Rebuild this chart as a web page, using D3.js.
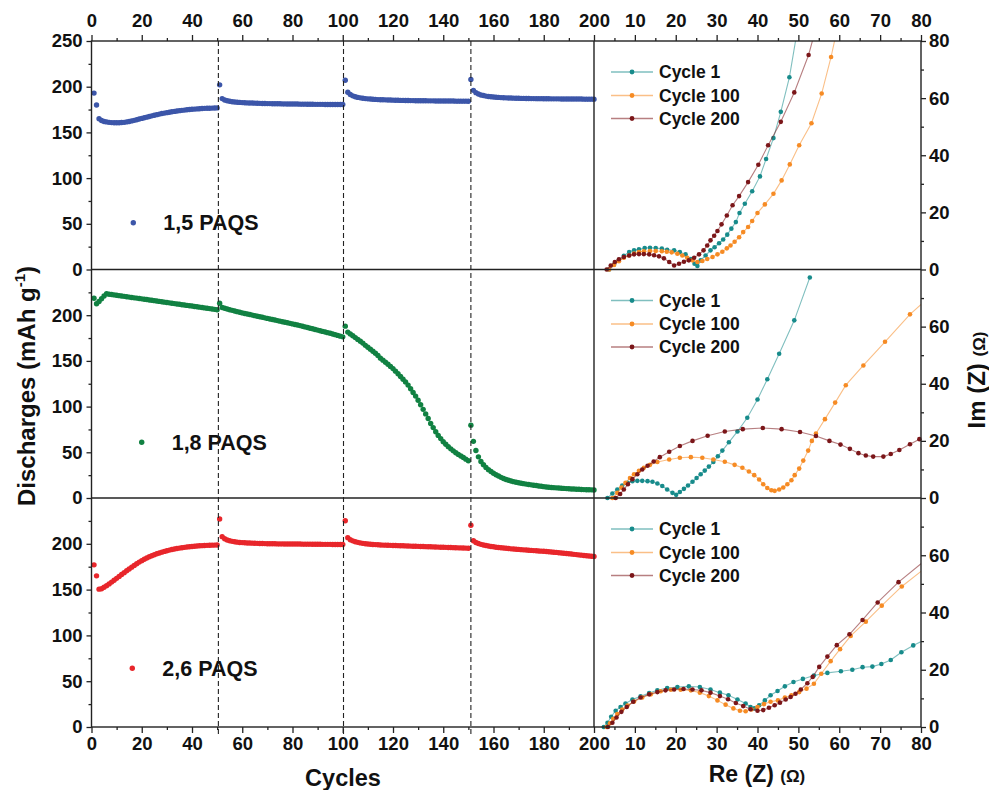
<!DOCTYPE html>
<html>
<head>
<meta charset="utf-8">
<script src="https://cdn.jsdelivr.net/npm/d3@7"></script>
<style>
body { margin: 0; background: #fff; }
svg text { font-family: "Liberation Sans", Arial, sans-serif; font-weight: bold; fill: #111; }
</style>
</head>
<body>
<svg width="989" height="790"></svg>
<script>
// discharge capacity per cycle (cycles 1..200)
var cycles = d3.range(1, 201);

var paqs15 = [193, 180, 165, 163, 162, 161.5, 161, 160.7, 160.5, 160.5,
    160.6, 160.8, 161, 161.5, 162, 162.6, 163.2, 163.9, 164.6, 165.3,
    166, 166.7, 167.4, 168.1, 168.8, 169.4, 170, 170.6, 171.1, 171.6,
    172.1, 172.6, 173, 173.4, 173.8, 174.1, 174.4, 174.7, 175, 175.3,
    175.5, 175.7, 175.9, 176.1, 176.3, 176.4, 176.5, 176.6, 176.7, 176.8,
    202, 187, 185.5, 184.6, 184, 183.6, 183.3, 183, 182.8, 182.6,
    182.4, 182.3, 182.2, 182.1, 182, 181.9, 181.8, 181.7, 181.6, 181.5,
    181.5, 181.4, 181.4, 181.3, 181.3, 181.2, 181.2, 181.1, 181.1, 181,
    181, 181, 180.9, 180.9, 180.9, 180.8, 180.8, 180.8, 180.7, 180.7,
    180.7, 180.7, 180.6, 180.6, 180.6, 180.6, 180.5, 180.5, 180.5, 180.5,
    207, 194, 191.5, 190, 189, 188.3, 187.8, 187.4, 187, 186.7,
    186.5, 186.3, 186.1, 185.9, 185.8, 185.7, 185.6, 185.5, 185.4, 185.3,
    185.2, 185.1, 185, 185, 184.9, 184.9, 184.8, 184.8, 184.7, 184.7,
    184.6, 184.6, 184.6, 184.5, 184.5, 184.5, 184.4, 184.4, 184.4, 184.4,
    184.3, 184.3, 184.3, 184.3, 184.2, 184.2, 184.2, 184.2, 184.2, 184.1,
    208, 196, 193.5, 192, 191, 190.3, 189.7, 189.3, 189, 188.7,
    188.5, 188.3, 188.1, 187.9, 187.8, 187.7, 187.6, 187.5, 187.4, 187.3,
    187.2, 187.2, 187.1, 187.1, 187, 187, 186.9, 186.9, 186.9, 186.8,
    186.8, 186.8, 186.7, 186.7, 186.7, 186.7, 186.6, 186.6, 186.6, 186.6,
    186.5, 186.5, 186.5, 186.5, 186.5, 186.4, 186.4, 186.4, 186.4, 186.4];

var paqs18 = [218.5, 212.5, 215, 218, 221, 223.5, 223, 222.6, 222.2, 221.8,
    221.4, 221, 220.6, 220.2, 219.8, 219.4, 219, 218.7, 218.3, 217.9,
    217.5, 217.1, 216.7, 216.3, 215.9, 215.5, 215.1, 214.7, 214.3, 213.9,
    213.5, 213.1, 212.7, 212.3, 211.9, 211.5, 211.1, 210.7, 210.3, 210,
    209.6, 209.2, 208.8, 208.4, 208, 207.6, 207.2, 206.8, 206.4, 206,
    213, 208.5, 207.6, 206.8, 206, 205.3, 204.6, 203.9, 203.2, 202.5,
    201.9, 201.3, 200.7, 200.1, 199.5, 198.9, 198.3, 197.7, 197.1, 196.5,
    195.9, 195.3, 194.7, 194.1, 193.5, 192.9, 192.3, 191.7, 191.1, 190.5,
    189.9, 189.3, 188.6, 187.9, 187.2, 186.5, 185.8, 185.1, 184.4, 183.7,
    183, 182.3, 181.6, 180.9, 180.2, 179.5, 178.7, 177.9, 177.1, 176.3,
    188, 181.5, 179.5, 177.5, 175.5, 173.5, 171.5, 169.5, 167, 165,
    162.8, 160.5, 158.3, 156, 153, 150.8, 148.5, 146.3, 144, 141.6,
    138.8, 136, 133, 130, 127, 123.5, 119.5, 115.5, 111.5, 107,
    102, 97, 92, 87, 81.5, 77, 72.5, 68.5, 65, 61.5,
    58.8, 56.2, 53.8, 51.6, 49.5, 47.7, 46, 44.3, 42.5, 40.7,
    79.7, 62, 52, 45, 40, 36.5, 33.5, 31, 29, 27,
    25.5, 24, 22.6, 21.4, 20.3, 19.4, 18.6, 17.9, 17.3, 16.7,
    16.2, 15.7, 15.2, 14.8, 14.4, 14, 13.6, 13.2, 12.8, 12.4,
    12.1, 11.8, 11.5, 11.3, 11.1, 10.9, 10.7, 10.5, 10.3, 10.1,
    9.9, 9.8, 9.6, 9.5, 9.3, 9.2, 9.1, 9, 8.9, 8.8];

var paqs26 = [177, 165, 150.5, 151, 152.5, 154.3, 156.2, 158.2, 160.2, 162.3,
    164.4, 166.5, 168.5, 170.5, 172.5, 174.5, 176.4, 178.2, 180, 181.6,
    183.1, 184.5, 185.8, 187, 188.1, 189.1, 190, 190.9, 191.7, 192.4,
    193.1, 193.7, 194.3, 194.8, 195.3, 195.7, 196.1, 196.5, 196.8, 197.1,
    197.4, 197.6, 197.8, 198, 198.2, 198.3, 198.4, 198.5, 198.6, 198.7,
    227, 207.8, 205.5, 204.2, 203.3, 202.7, 202.2, 201.8, 201.5, 201.3,
    201.1, 200.9, 200.8, 200.7, 200.6, 200.5, 200.4, 200.3, 200.2, 200.1,
    200.1, 200, 200, 199.9, 199.9, 199.9, 199.8, 199.8, 199.8, 199.7,
    199.7, 199.7, 199.7, 199.6, 199.6, 199.6, 199.6, 199.5, 199.5, 199.5,
    199.5, 199.4, 199.4, 199.4, 199.4, 199.3, 199.3, 199.3, 199.3, 199.2,
    225.2, 206.7, 204.5, 203.2, 202.3, 201.6, 201, 200.5, 200.1, 199.8,
    199.5, 199.3, 199.1, 198.9, 198.7, 198.6, 198.5, 198.4, 198.3, 198.2,
    198.1, 198, 197.9, 197.8, 197.7, 197.6, 197.5, 197.4, 197.3, 197.2,
    197.1, 197, 196.9, 196.8, 196.7, 196.6, 196.5, 196.4, 196.3, 196.2,
    196.1, 196, 195.9, 195.8, 195.7, 195.6, 195.5, 195.4, 195.3, 195.2,
    220.2, 203.4, 201.5, 200.3, 199.4, 198.7, 198.1, 197.6, 197.1, 196.7,
    196.3, 196, 195.7, 195.4, 195.1, 194.8, 194.5, 194.3, 194.1, 193.9,
    193.6, 193.4, 193.2, 193, 192.8, 192.6, 192.4, 192.2, 192, 191.8,
    191.6, 191.3, 191.1, 190.8, 190.6, 190.3, 190, 189.7, 189.4, 189.1,
    188.8, 188.5, 188.2, 187.9, 187.6, 187.3, 187, 186.7, 186.4, 186.1];

// cycles where the dashed markers sit
var breakCycles = [50.5, 100.3, 151];

// Nyquist plots [Re, Im] in ohm
var top1 = [[3.7,0],[4.9,1.75],[6.1,3.4],[7.3,4.8],[8.6,6.1],[9.8,6.7],[11,7.1],[12.4,7.5],[13.7,7.6],[15.1,7.5],[16.6,7.3],[17.9,6.9],[19.6,6.7],[21,6.1],[22.4,5.3],[23.7,3.7],[24.6,2],[25.3,1.2],[26.1,3.2],[27.3,4.9],[28.5,6.7],[29.5,7.8],[30.6,9.2],[31.6,10.5],[32.6,12.2],[33.6,14.3],[34.7,16.6],[35.6,19.8],[36.9,23],[38.7,27.4],[40.6,32.6],[42.1,38.7],[43.9,46],[45.7,55.2],[47.8,67.3],[49.6,82.5]];
var top100 = [[3.7,0],[4.9,1.6],[6.1,2.9],[7.3,4.1],[8.6,4.9],[9.8,5.6],[11,6.1],[12.2,6.4],[13.7,6.5],[15.1,6.5],[16.6,6.4],[17.8,6.2],[19,6],[20.4,5.5],[21.6,4.9],[22.8,4.1],[24.1,3.2],[25.3,2.6],[26.5,3],[27.7,3.7],[29,4.4],[30.2,5.3],[31.4,6.2],[32.5,7.4],[33.4,8.4],[34.4,9.7],[35.5,11.3],[36.5,13.1],[37.7,14.9],[38.7,17],[40,19.8],[41.8,22.8],[43.9,26.5],[45.9,31.2],[47.9,36.8],[50.2,43.5],[53.2,51.2],[55.7,61.6],[58,74.4],[59.6,85]];
var top200 = [[3.1,0],[4.1,1.4],[5.1,2.6],[6.1,3.6],[7.3,4.4],[8.6,4.9],[9.8,5.3],[11,5.4],[12.2,5.4],[13.5,5.3],[14.7,5],[15.9,4.6],[17.1,3.9],[18.4,2.6],[19.6,1.4],[20.8,2],[22,2.7],[23.2,3.2],[24.5,4.1],[25.7,5.3],[26.8,6.7],[27.7,8.4],[28.5,10.2],[29.4,11.8],[30.2,13.5],[31.2,15.8],[32.5,18.9],[33.9,22.5],[35.5,25.7],[37.7,30.6],[40.2,36.7],[42.6,43.5],[45.7,51.7],[49,62],[52.5,75.1],[54,83]];

var mid1 = [[3.3,0],[4.5,1.6],[5.7,3],[6.9,4.4],[8.2,5.3],[9.4,5.9],[10.6,6],[11.8,6],[13.1,5.9],[14.3,5.7],[15.5,5.1],[16.7,4.2],[17.9,3],[19.2,1.8],[20.1,1.1],[21,2.1],[22,3.2],[23,4.4],[24.1,5.7],[25.1,7],[26.1,8.3],[27.1,9.6],[28.1,11],[29.2,12.6],[30.3,14.6],[31.4,16.6],[33,19.5],[35.1,23.3],[37.5,28.1],[40,34.5],[42.4,41.6],[45.3,50.5],[49,62.2],[52.8,77.2]];
var mid100 = [[4.5,0],[5.7,1.8],[6.7,3.7],[7.7,5.3],[8.8,7],[9.8,8.3],[11,9.5],[12.2,10.6],[13.7,11.6],[15.5,12.6],[18.4,13.5],[21,14.1],[23.7,14.3],[26.5,14.1],[29.2,13.5],[32,12.7],[34.4,11.6],[36.3,10.6],[37.9,9.3],[39.2,8],[40.4,6.5],[41.4,4.8],[42.4,3.5],[43.4,2.7],[44.2,2.5],[45.3,3],[46.3,3.7],[47.3,4.8],[48.3,6.2],[49.1,8],[50.2,10.3],[51.2,13.1],[52.4,16.6],[53.3,20],[54.3,22.6],[56.5,27.6],[59,33.4],[61.6,39.5],[65.9,46.4],[71.2,54.7],[77.3,64.3],[81,69]];
var mid200 = [[5.3,0],[6.4,1.4],[7.3,3],[8.3,4.8],[9.4,6.6],[10.6,8.3],[11.8,10],[13.1,11.3],[14.6,12.8],[16.1,14.3],[18.4,16.2],[21,18.2],[24.1,20],[27.8,21.8],[32,23.3],[36.4,24.1],[41.3,24.5],[45.9,24.1],[50.4,23.1],[54.3,21.7],[57.6,20],[60.3,18.7],[62.6,17.2],[64.7,15.7],[66.5,14.9],[68.3,14.5],[70.8,14.5],[72.6,15.4],[74.7,16.8],[77.3,18.8],[79.6,20.6],[81,21.6]];

var bot1 = [[2.4,0],[3.3,1.5],[4.2,3.6],[5.3,5.7],[6.5,7],[7.7,8.2],[9.4,9.6],[11.4,10.7],[13.5,11.9],[15.5,12.8],[17.9,13.6],[20.4,14],[23.2,14.2],[25.9,14],[28.5,13.1],[30.8,12],[32.9,11.1],[35.1,9.6],[37.1,8.2],[38.3,7],[39.2,6.5],[40.4,7.6],[41.8,9.3],[43.2,11.1],[44.9,12.6],[46.7,14.2],[48.8,15.7],[51.1,16.8],[53.8,18],[57.1,18.9],[60.4,19.5],[63.2,20],[65.7,20.9],[68.1,21.1],[70.3,22],[72.6,23.4],[75.2,26.1],[78.1,28.5],[81,30.5]];
var bot100 = [[3.1,0],[3.9,1.3],[4.7,2.9],[5.7,4.5],[6.9,6.1],[8.2,7.5],[9.8,8.9],[11.8,10.3],[13.9,11.4],[16.3,12.5],[18.8,13],[21.2,13],[23.7,12.8],[25.9,12],[28.1,10.8],[30.2,9.3],[32.2,7.8],[34.1,6.5],[35.7,5.7],[37.1,5.5],[38.5,6.1],[40,7],[41.6,8],[43.2,8.8],[45,9.3],[46.7,10.3],[48.3,11.1],[50.2,12.2],[52,13.4],[53.8,15.1],[55.6,18.6],[57.9,23],[60.2,27.2],[62.8,31.8],[66.5,36.8],[70.4,42.4],[75.3,49.1],[81,55.5]];
var bot200 = [[3.4,0],[4.5,1.5],[5.5,3.3],[6.7,5.3],[8,7],[9.6,8.8],[11.4,10.3],[13.5,11.4],[15.5,12.2],[17.5,12.8],[19.6,13.1],[21.9,13.3],[24.1,13.1],[26.3,12.8],[28.5,12],[30.8,10.8],[32.8,9.7],[34.7,8.4],[36.5,7.3],[38.3,6.2],[40,5.7],[41.4,5.9],[42.8,6.7],[44.2,7.6],[45.5,8.5],[46.9,9.6],[48.1,10.5],[49.3,11.6],[50.6,13.1],[52.2,15.3],[53.5,17.5],[55.1,21],[57.1,24.6],[59.4,28.6],[62.5,32.4],[65.7,37.4],[69.4,43.5],[74.5,50.6],[81,58.2]];

var sampleNames = ["1,5 PAQS", "1,8 PAQS", "2,6 PAQS"];
var cycleNames = ["Cycle 1", "Cycle 100", "Cycle 200"];

var leftTicks = [0, 50, 100, 150, 200, 250];
var leftMinor = [25, 75, 125, 175, 225];
var rightTicks = [0, 20, 40, 60, 80];
var rightMinor = [10, 30, 50, 70];
var cycleTicks = [0, 20, 40, 60, 80, 100, 120, 140, 160, 180, 200];
var cycleMinor = [10, 30, 50, 70, 90, 110, 130, 150, 170, 190];
var reTicks = [10, 20, 30, 40, 50, 60, 70, 80];
var reMinor = [5, 15, 25, 35, 45, 55, 65, 75];

var sampleColors = ["#3c56a9", "#118142", "#e8262b"];
var cycleColors = ["#178b8b", "#f68b24", "#7b1619"];

var svg = d3.select("svg");
var x0 = 91.5, xm = 594, x1 = 921;
var rows = [{ top: 41, bottom: 269.5 }, { top: 269.5, bottom: 498 }, { top: 498, bottom: 727 }];

var xL = d3.scaleLinear().domain([0, 200]).range([x0, xm]);
var xR = d3.scaleLinear().domain([0, 80]).range([xm, x1]);

var eisData = [[top1, top100, top200], [mid1, mid100, mid200], [bot1, bot100, bot200]];
var sampleData = [paqs15, paqs18, paqs26];

// layout of the in-panel labels
var sampleLabelPos = [{ dx: 133.3, dy: 222.7 }, { dx: 141.7, dy: 442.3 }, { dx: 132.3, dy: 668.3 }];
var legendOffsets = [31, 54.5, 77.5];

function styleAxis(g) {
    g.select(".domain").remove();
    g.attr("font-family", null).attr("font-size", null);
    g.selectAll("line").attr("stroke", "#222").attr("stroke-width", 1.3);
    g.selectAll("text").attr("font-size", 18.5).attr("fill", "#111");
}

function fmtLeft(i) {
    return function (d) { return (i > 0 && d == 250) ? "" : d; };
}
function fmtRight(i) {
    return function (d) { return (i > 0 && d == 80) ? "" : d; };
}

rows.forEach(function (r, i) {
    var yL = d3.scaleLinear().domain([0, 250]).range([r.bottom, r.top]);
    var yR = d3.scaleLinear().domain([0, 80]).range([r.bottom, r.top]);

    svg.append("g")
        .attr("transform", "translate(" + x0 + ",0)")
        .call(d3.axisLeft(yL).tickValues(i == 0 ? leftTicks : leftTicks.slice(0, 5)).tickSize(5).tickPadding(4).tickFormat(fmtLeft(i)))
        .call(styleAxis);
    svg.append("g")
        .attr("transform", "translate(" + x0 + ",0)")
        .call(d3.axisLeft(yL).tickValues(leftMinor).tickSize(3).tickFormat(""))
        .call(styleAxis);

    svg.append("g")
        .attr("transform", "translate(" + x1 + ",0)")
        .call(d3.axisRight(yR).tickValues(i == 0 ? rightTicks : rightTicks.slice(0, 4)).tickSize(5).tickPadding(3).tickFormat(fmtRight(i)))
        .call(styleAxis);
    svg.append("g")
        .attr("transform", "translate(" + x1 + ",0)")
        .call(d3.axisRight(yR).tickValues(rightMinor).tickSize(3).tickFormat(""))
        .call(styleAxis);

    // capacity dots
    svg.append("g").selectAll("circle")
        .data(sampleData[i])
        .enter().append("circle")
        .attr("cx", function (d, k) { return xL(cycles[k]); })
        .attr("cy", function (d) { return yL(d); })
        .attr("r", 2.7)
        .attr("fill", sampleColors[i]);

    var lp = sampleLabelPos[i];
    svg.append("circle").attr("cx", lp.dx).attr("cy", lp.dy).attr("r", 2.7).attr("fill", sampleColors[i]);
    svg.append("text").attr("x", lp.dx + 30).attr("y", lp.dy + 7.5)
        .attr("font-size", 21.5).text(sampleNames[i]);

    // impedance
    var clipId = "clip" + i;
    svg.append("clipPath").attr("id", clipId).append("rect")
        .attr("x", xm).attr("y", r.top).attr("width", x1 - xm).attr("height", r.bottom - r.top);

    var line = d3.line()
        .x(function (d) { return xR(d[0]); })
        .y(function (d) { return yR(d[1]); });

    eisData[i].forEach(function (series, s) {
        var g = svg.append("g");
        g.append("path")
            .attr("d", line(series))
            .attr("clip-path", "url(#" + clipId + ")")
            .attr("fill", "none")
            .attr("stroke", cycleColors[s])
            .attr("stroke-opacity", 0.55)
            .attr("stroke-width", 1.1);
        g.selectAll("circle")
            .data(series.filter(function (d) { return d[0] <= 80 && d[1] <= 80; }))
            .enter().append("circle")
            .attr("cx", function (d) { return xR(d[0]); })
            .attr("cy", function (d) { return yR(d[1]); })
            .attr("r", 2.3)
            .attr("fill", cycleColors[s]);
    });

    cycleNames.forEach(function (name, s) {
        var ly = r.top + legendOffsets[s];
        svg.append("line").attr("x1", 611).attr("x2", 653).attr("y1", ly).attr("y2", ly)
            .attr("stroke", cycleColors[s]).attr("stroke-opacity", 0.55).attr("stroke-width", 1.3);
        svg.append("circle").attr("cx", 632).attr("cy", ly).attr("r", 2.4).attr("fill", cycleColors[s]);
        svg.append("text").attr("x", 659).attr("y", ly + 6).attr("font-size", 17.5).text(name);
    });
});

// dashed markers at the rate changes
svg.append("g").selectAll("line")
    .data(breakCycles)
    .enter().append("line")
    .attr("x1", function (d) { return xL(d); })
    .attr("x2", function (d) { return xL(d); })
    .attr("y1", 41).attr("y2", 735)
    .attr("stroke", "#222").attr("stroke-width", 1.1).attr("stroke-dasharray", "5,3");

// x axes top and bottom
svg.append("g").attr("transform", "translate(0,41)")
    .call(d3.axisTop(xL).tickValues(cycleTicks).tickSize(6).tickPadding(8)).call(styleAxis);
svg.append("g").attr("transform", "translate(0,41)")
    .call(d3.axisTop(xL).tickValues(cycleMinor).tickSize(3).tickFormat("")).call(styleAxis);
svg.append("g").attr("transform", "translate(0,41)")
    .call(d3.axisTop(xR).tickValues(reTicks).tickSize(6).tickPadding(8)).call(styleAxis);
svg.append("g").attr("transform", "translate(0,41)")
    .call(d3.axisTop(xR).tickValues(reMinor).tickSize(3).tickFormat("")).call(styleAxis);

svg.append("g").attr("transform", "translate(0,727)")
    .call(d3.axisBottom(xL).tickValues(cycleTicks).tickSize(6).tickPadding(4)).call(styleAxis);
svg.append("g").attr("transform", "translate(0,727)")
    .call(d3.axisBottom(xL).tickValues(cycleMinor).tickSize(3).tickFormat("")).call(styleAxis);
svg.append("g").attr("transform", "translate(0,727)")
    .call(d3.axisBottom(xR).tickValues(reTicks).tickSize(6).tickPadding(4)).call(styleAxis);
svg.append("g").attr("transform", "translate(0,727)")
    .call(d3.axisBottom(xR).tickValues(reMinor).tickSize(3).tickFormat("")).call(styleAxis);

// frame
var frame = svg.append("g").attr("stroke", "#222").attr("stroke-width", 1.4);
frame.append("rect").attr("x", x0).attr("y", 41).attr("width", x1 - x0).attr("height", 727 - 41).attr("fill", "none");
frame.append("line").attr("x1", x0).attr("x2", x1).attr("y1", 269.5).attr("y2", 269.5);
frame.append("line").attr("x1", x0).attr("x2", x1).attr("y1", 498).attr("y2", 498);
frame.append("line").attr("x1", xm).attr("x2", xm).attr("y1", 41).attr("y2", 727);

// axis titles
var yTitle = svg.append("text")
    .attr("transform", "translate(35,386) rotate(-90)")
    .attr("text-anchor", "middle").attr("font-size", 24);
yTitle.append("tspan").text("Discharges (mAh g");
yTitle.append("tspan").attr("font-size", 15).attr("dy", -10).text("-1");
yTitle.append("tspan").attr("dy", 10).text(")");

var imTitle = svg.append("text")
    .attr("transform", "translate(985,380) rotate(-90)")
    .attr("text-anchor", "middle").attr("font-size", 24);
imTitle.append("tspan").text("Im (Z) ");
imTitle.append("tspan").attr("font-size", 17).text("(\u03A9)");

svg.append("text").attr("x", 343).attr("y", 786).attr("text-anchor", "middle")
    .attr("font-size", 23.5).text("Cycles");

var reTitle = svg.append("text").attr("x", 757).attr("y", 782).attr("text-anchor", "middle").attr("font-size", 23);
reTitle.append("tspan").text("Re (Z) ");
reTitle.append("tspan").attr("font-size", 17).text("(\u03A9)");
</script>
</body>
</html>
